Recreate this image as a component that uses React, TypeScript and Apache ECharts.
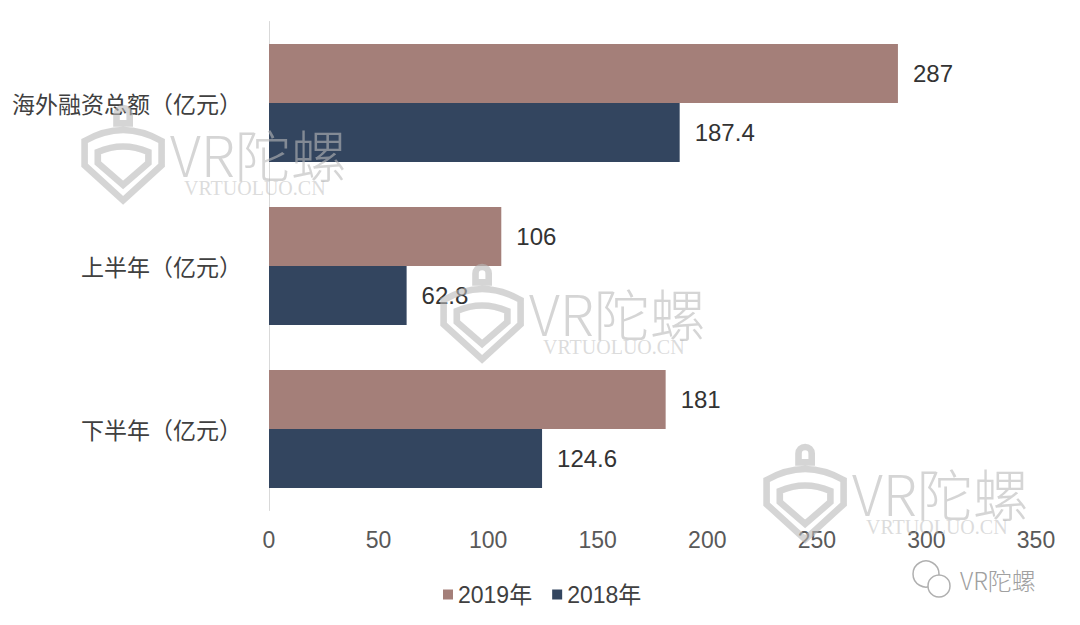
import React, { useEffect, useRef } from "react";
import * as echarts from "echarts";

const categories = ["海外融资总额（亿元）", "上半年（亿元）", "下半年（亿元）"];
const seriesNames = ["2019年", "2018年"];
const values2019 = [287, 106, 181];
const values2018 = [187.4, 62.8, 124.6];
const xTicks = { min: 0, max: 350, interval: 50 };
const colors = ["#a47f79", "#33455f"];

const watermarkSpots = [
  [78, 106],
  [437, 265],
  [760, 445],
];

echarts.graphic.registerShape(
  "wmLogo",
  echarts.graphic.extendPath(
    "M6 30 Q41 10 76 30 L76 52 L41 84 L6 52 Z M18 40 Q41 30 64 40 L64 50 L41 70 L18 50 Z M35 6 A6 6 0 1 1 47 6 L47 14 L35 14 Z",
    {}
  )
);

export default function App() {
  const ref = useRef<HTMLDivElement>(null);
  useEffect(() => {
    if (!ref.current) return;
    const chart = echarts.init(ref.current, null, { renderer: "svg" });
    const wmColor = "rgba(185,185,185,0.6)";
    const graphics: any[] = [];
    watermarkSpots.forEach(([x, y]) => {
      graphics.push({
        type: "wmLogo",
        x,
        y: y + 2,
        scaleX: 1.1,
        scaleY: 1.1,
        z: 100,
        style: { fill: "none", stroke: wmColor, lineWidth: 6 },
      });
      graphics.push({
        type: "text",
        x: x + 92,
        y: y + 46,
        z: 100,
        style: {
          text: "VR陀螺",
          fill: wmColor,
          font: '300 56px "Noto Sans CJK SC"',
          verticalAlign: "middle",
        },
      });
      graphics.push({
        type: "text",
        x: x + 106,
        y: y + 82,
        z: 100,
        style: {
          text: "VRTUOLUO.CN",
          fill: "rgba(185,185,185,0.5)",
          font: '20px "Liberation Serif"',
          verticalAlign: "middle",
        },
      });
    });
    graphics.push({
      type: "circle",
      shape: { cx: 926, cy: 574, r: 13 },
      style: { fill: "none", stroke: "#b0b0b0", lineWidth: 1.5 },
    });
    graphics.push({
      type: "circle",
      shape: { cx: 939, cy: 586, r: 11 },
      style: { fill: "#fff", stroke: "#b0b0b0", lineWidth: 1.5 },
    });
    graphics.push({
      type: "text",
      x: 960,
      y: 579,
      style: {
        text: "VR陀螺",
        fill: "#a0a0a0",
        font: '300 24px "Noto Sans CJK SC"',
        verticalAlign: "middle",
      },
    });

    chart.setOption({
      animation: false,
      backgroundColor: "#ffffff",
      textStyle: { fontFamily: '"Liberation Sans", "Noto Sans CJK SC", sans-serif' },
      color: colors,
      grid: { left: 269, right: 44, top: 21.5, bottom: 114.5, containLabel: false },
      legend: {
        data: seriesNames,
        left: 438,
        top: 578,
        icon: "rect",
        itemWidth: 10,
        itemHeight: 10,
        itemGap: 20,
        textStyle: { fontSize: 23, color: "#404040" },
      },
      xAxis: {
        type: "value",
        min: xTicks.min,
        max: xTicks.max,
        interval: xTicks.interval,
        axisLine: { show: false },
        axisTick: { show: false },
        splitLine: { show: false },
        axisLabel: { fontSize: 23, color: "#595959", margin: 18 },
      },
      yAxis: {
        type: "category",
        data: categories,
        inverse: true,
        axisLine: { show: true, lineStyle: { color: "#d9d9d9", width: 1 } },
        axisTick: { show: false },
        axisLabel: {
          fontSize: 23,
          color: "#404040",
          margin: 27,
          fontFamily: '"Noto Sans CJK SC", sans-serif',
        },
      },
      series: [
        {
          name: seriesNames[0],
          type: "bar",
          data: values2019,
          barWidth: 59,
          barGap: "0%",
          label: { show: true, position: "right", distance: 15, fontSize: 24, color: "#333" },
        },
        {
          name: seriesNames[1],
          type: "bar",
          data: values2018,
          barWidth: 59,
          barGap: "0%",
          label: { show: true, position: "right", distance: 15, fontSize: 24, color: "#333" },
        },
      ],
      graphic: graphics,
    });
    return () => chart.dispose();
  }, []);
  return (
    <div
      ref={ref}
      style={{ position: "fixed", left: 0, top: 0, width: 1080, height: 625 }}
    />
  );
}
